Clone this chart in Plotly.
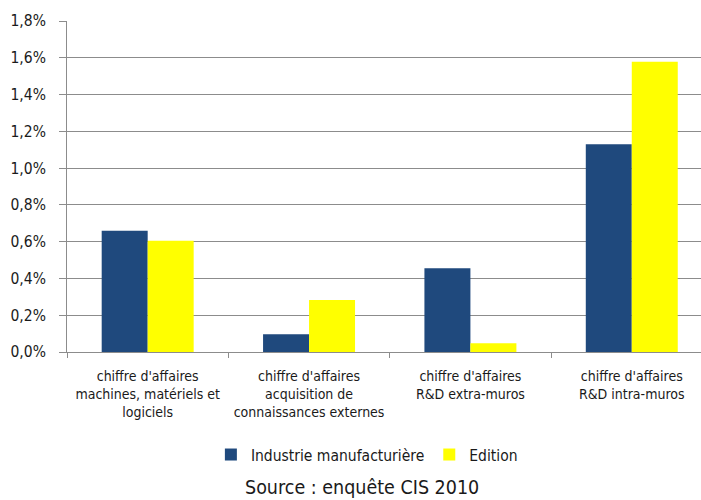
import plotly.graph_objects as go

categories = [
    "chiffre d'affaires<br>machines, matériels et<br>logiciels",
    "chiffre d'affaires<br>acquisition de<br>connaissances externes",
    "chiffre d'affaires<br>R&D extra-muros",
    "chiffre d'affaires<br>R&D intra-muros",
]
industrie = [0.0066, 0.00096, 0.00455, 0.0113]
edition = [0.00605, 0.00283, 0.00047, 0.01578]
y_ticks = [0, 0.002, 0.004, 0.006, 0.008, 0.010, 0.012, 0.014, 0.016, 0.018]

FONT = "DejaVu Sans Condensed, Liberation Sans, Arial, sans-serif"

fig = go.Figure()
fig.add_trace(go.Bar(name="Industrie manufacturière", x=categories, y=industrie,
                     marker=dict(color="#1F497D", line=dict(width=0))))
fig.add_trace(go.Bar(name="Edition", x=categories, y=edition,
                     marker=dict(color="#FFFF00", line=dict(width=0))))

fig.update_layout(
    width=701, height=500,
    margin=dict(l=67, r=0, t=21, b=148),
    paper_bgcolor="white", plot_bgcolor="white",
    barmode="group", bargap=0.43, bargroupgap=0,
    separators=", ",
    font=dict(family=FONT, size=15, color="#1a1a1a"),
    showlegend=True,
    legend=dict(orientation="h", x=0.473, xanchor="center", y=-0.311, yanchor="middle",
                font=dict(size=15.5), traceorder="normal", itemwidth=30),
    annotations=[dict(text="Source : enquête CIS 2010", xref="paper", yref="paper",
                      x=0.465, y=-0.409, xanchor="center", yanchor="middle", showarrow=False,
                      font=dict(size=19.5, family=FONT))],
)
fig.update_yaxes(range=[0, 0.018], tickvals=y_ticks, tickformat=".1%",
                 showgrid=True, gridcolor="#8c8c8c", gridwidth=1,
                 showline=True, linecolor="#8c8c8c", linewidth=1,
                 ticks="outside", ticklen=7, tickcolor="#8c8c8c",
                 ticklabelstandoff=10, automargin=False,
                 tickfont=dict(size=15.5), zeroline=False)
fig.update_xaxes(range=[-0.5, 3.429], showline=True, linecolor="#8c8c8c", linewidth=1,
                 ticks="outside", tickson="boundaries", ticklen=5, tickcolor="#8c8c8c",
                 ticklabelstandoff=11, tickangle=0, automargin=False,
                 tickfont=dict(size=14), showgrid=False)

fig.write_html("out.html")
